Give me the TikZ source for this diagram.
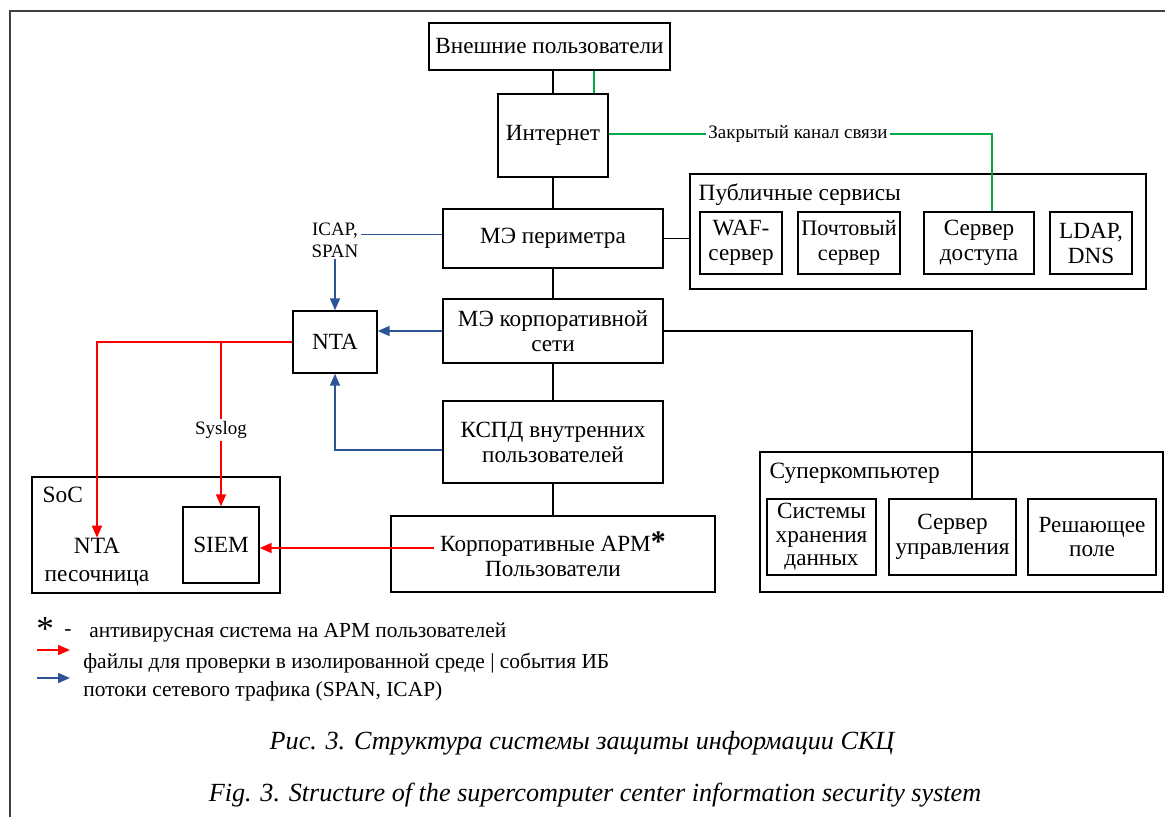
\documentclass[tikz,border=0pt]{standalone}
\usepackage{fontspec}
\setmainfont{Liberation Serif}
\usetikzlibrary{arrows.meta}

\definecolor{flowred}{RGB}{255,0,0}
\definecolor{flowblue}{RGB}{47,84,150}
\definecolor{linkgreen}{RGB}{0,170,70}

\tikzset{
  unit/.style={draw,line width=0.8pt,align=center,inner sep=0pt,font=\fontsize{13.2}{14.2}\selectfont},
  group/.style={draw,line width=0.8pt,inner sep=0pt},
  title/.style={anchor=north west,inner sep=0pt,font=\fontsize{13.3}{14.2}\selectfont},
  lbl/.style={align=center,inner sep=1pt,font=\fontsize{10.8}{12.5}\selectfont},
  legend/.style={anchor=west,inner sep=0pt,font=\fontsize{12.2}{14}\selectfont},
  caption/.style={inner sep=0pt,font=\fontsize{14.9}{17}\selectfont\itshape},
  link/.style={line width=0.8pt},
  greenlink/.style={draw=linkgreen,line width=1pt},
  blueline/.style={flowblue,line width=1pt},
  redline/.style={flowred,line width=1pt},
  bluearr/.style={blueline,-{Triangle[length=2.4mm,width=2mm]}},
  redarr/.style={redline,-{Triangle[length=2.4mm,width=2mm]}},
}

\begin{document}
\begin{tikzpicture}[x=0.02cm,y=-0.02cm]
\useasboundingbox (0,0) rectangle (1165,817);
\draw[line width=1.2pt,black!75] (10,817) -- (10,11) -- (1165,11);

% central chain
\node[unit,minimum width=4.82cm,minimum height=0.94cm] (ext) at (549.5,46.5) {Внешние пользователи};
\node[unit,minimum width=2.2cm,minimum height=1.66cm] (inet) at (553,135.5) {Интернет};
\node[unit,minimum width=4.4cm,minimum height=1.18cm] (fwper) at (553,238.5) {МЭ периметра};
\node[unit,minimum width=4.4cm,minimum height=1.28cm] (fwcorp) at (553,331) {МЭ корпоративной\\сети};
\node[unit,minimum width=4.4cm,minimum height=1.64cm] (kspd) at (553,442) {КСПД внутренних\\пользователей};
\node[unit,minimum width=6.48cm,minimum height=1.52cm] (arm) at (553,554)
  {Корпоративные АРМ{\fontsize{17}{17}\selectfont\textbf{*}}\\Пользователи};
\coordinate (armsrc) at (434,548);

% public services
\node[group,minimum width=9.12cm,minimum height=2.3cm] (pub) at (918,231.5) {};
\node[title] (pubtitle) at ([xshift=0.18cm,yshift=-0.2cm]pub.north west) {Публичные сервисы};
\node[unit,minimum width=1.64cm,minimum height=1.24cm] (waf) at (741,243) {WAF-\\сервер};
\node[unit,minimum width=2.04cm,minimum height=1.24cm,font=\fontsize{12.6}{14.2}\selectfont] (mail) at (849,243) {Почтовый\\сервер};
\node[unit,minimum width=2.2cm,minimum height=1.24cm] (acc) at (979,243) {Сервер\\доступа};
\node[unit,minimum width=1.64cm,minimum height=1.24cm] (ldap) at (1091,243) {LDAP,\\DNS};

% supercomputer
\node[group,minimum width=8.06cm,minimum height=2.8cm] (sc) at (961.5,522) {};
\node[title] (sctitle) at ([xshift=0.2cm,yshift=-0.22cm]sc.north west) {Суперкомпьютер};
\node[unit,minimum width=2.18cm,minimum height=1.52cm,font=\fontsize{13.2}{13.4}\selectfont] (stor) at (821.5,537) {Системы\\хранения\\данных};
\node[unit,minimum width=2.54cm,minimum height=1.52cm] (mgmt) at (952.5,537) {Сервер\\управления};
\node[unit,minimum width=2.56cm,minimum height=1.52cm] (field) at (1092,537) {Решающее\\поле};

% monitoring
\node[unit,minimum width=1.68cm,minimum height=1.24cm] (nta) at (335,342) {NTA};
\node[group,minimum width=4.96cm,minimum height=2.32cm] (soc) at (156,535) {};
\node[title] (soctitle) at ([xshift=0.22cm,yshift=-0.2cm]soc.north west) {SoC};
\node[unit,minimum width=1.52cm,minimum height=1.52cm] (siem) at (221,545) {SIEM};
\node[unit,draw=none,font=\fontsize{13.3}{15.5}\selectfont] (sand) at (97,562) {NTA\\песочница};

% labels
\node[lbl] (icap) at (335,240) {ICAP,\\SPAN};
\node[lbl] (syslog) at (221,430) {Syslog};
\node[lbl] (chan) at (798,134) {Закрытый канал связи};

% black links
\draw[link] (inet.north) -- (inet.north |- ext.south);
\draw[link] (inet) -- (fwper);
\draw[link] (fwper) -- (fwcorp);
\draw[link] (fwcorp) -- (kspd);
\draw[link] (kspd) -- (arm);
\draw[link] (fwper.east) -- (fwper.east -| pub.west);
\draw[link] (fwcorp.east) -| ([xshift=0.39cm]mgmt.north);

% closed channel
\draw[greenlink] ([xshift=-0.3cm]inet.north east) -- ([xshift=-0.3cm]inet.north east |- ext.south);
\draw[greenlink] (inet.east |- chan.west) -- (chan.west);
\draw[greenlink] (chan.east) -| ([xshift=0.26cm]acc.north);

% traffic
\draw[blueline] ([yshift=0.08cm]fwper.west) -- ([yshift=0.08cm]fwper.west -| icap.east);
\draw[bluearr] (icap.south) -- (nta.north);
\draw[bluearr] (fwcorp.west) -- (fwcorp.west -| nta.east);
\draw[bluearr] ([yshift=-0.16cm]kspd.west) -| (nta.south);

% files and events
\draw[redarr] (nta.west) -| (sand.north);
\draw[redline] (nta.west -| siem.north) -- (syslog.north);
\draw[redarr] (syslog.south) -- (siem.north);
\draw[redarr] (armsrc) -- (armsrc -| siem.east);

% legend
\node[anchor=west,inner sep=0pt,font=\fontsize{20}{20}\selectfont] (star) at (36,629) {*};
\node[legend] (dash) at (64,633) {-};
\node[legend] (av) at (89,632) {антивирусная система на АРМ пользователей};
\coordinate (ra) at (37,650);
\coordinate (ba) at (37,678);
\draw[redarr] (ra) -- ++(33,0);
\draw[bluearr] (ba) -- ++(33,0);
\node[legend] (files) at (83,663) {файлы для проверки в изолированной среде | события ИБ};
\node[legend] (flows) at (83,691) {потоки сетевого трафика (SPAN, ICAP)};

% captions
\node[caption] (cru) at (582,743) {Рис. 3. Структура системы защиты информации СКЦ};
\node[caption] (cen) at (595,795) {Fig. 3. Structure of the supercomputer center information security system};
\end{tikzpicture}
\end{document}
